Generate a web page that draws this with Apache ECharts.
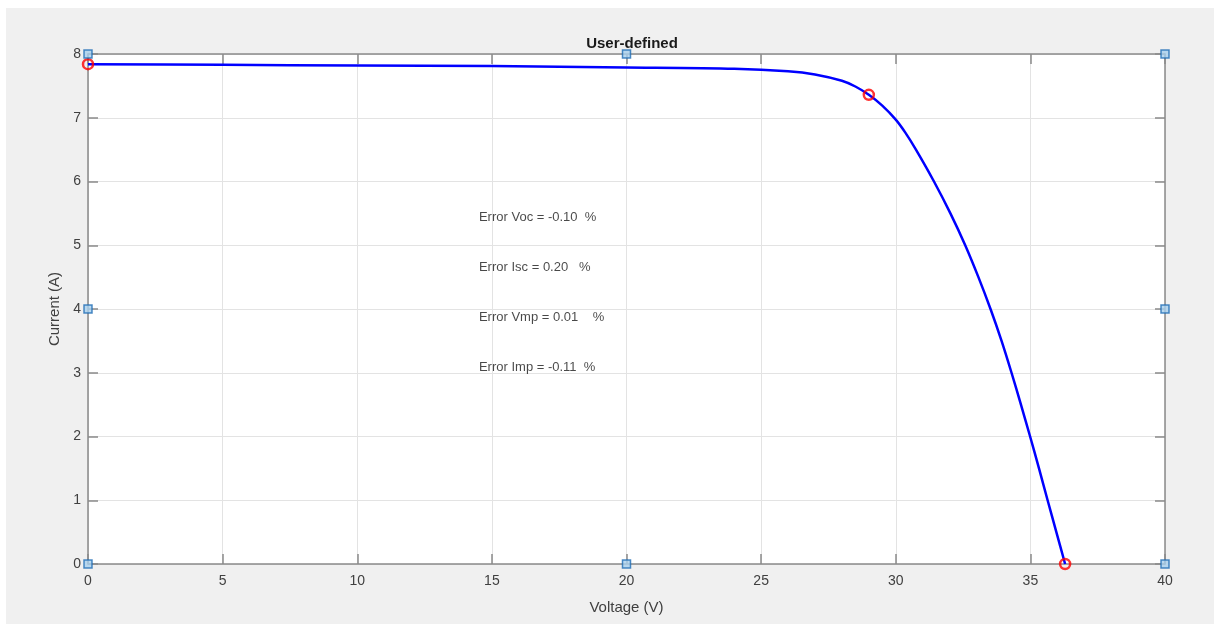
<!DOCTYPE html>
<html>
<head>
<meta charset="utf-8">
<script src="https://cdn.jsdelivr.net/npm/echarts@6/dist/echarts.min.js"></script>
<style>
  html, body { margin: 0; padding: 0; background: #ffffff; }
  #chart { position: absolute; left: 6px; top: 8px; width: 1208px; height: 616px; }
</style>
</head>
<body>
<div id="chart"></div>
<script>
// I-V curve (Voltage V, Current A)
const voltage = [0, 5, 10, 15, 20, 24, 26, 27, 28, 28.5, 29, 29.5, 30, 30.35, 30.75, 31.42, 32.03, 32.58, 33.07, 33.52, 33.93, 34.30, 34.65, 34.99, 35.32, 35.64, 35.965, 36.29];
const current = [7.84, 7.83, 7.82, 7.81, 7.79, 7.77, 7.73, 7.68, 7.58, 7.49, 7.36, 7.19, 6.97, 6.77, 6.5, 6.0, 5.5, 5.0, 4.5, 4.0, 3.5, 3.0, 2.5, 2.0, 1.5, 1.0, 0.5, 0];

// key points (red circles): Isc, MPP, Voc
const keyV = [0, 29.0, 36.29];
const keyI = [7.84, 7.36, 0];

// blue square markers
const markV = [0, 0, 0, 20, 20, 40, 40, 40];
const markI = [0, 4, 8, 0, 8, 0, 4, 8];

// annotation texts
const noteText = ['Error Voc = -0.10  %', 'Error Isc = 0.20   %', 'Error Vmp = 0.01    %', 'Error Imp = -0.11  %'];
const noteV = [14.52, 14.52, 14.52, 14.52];
const noteI = [5.44, 4.65, 3.87, 3.08];

const xTicks = [0, 5, 10, 15, 20, 25, 30, 35, 40];
const yTicks = [0, 1, 2, 3, 4, 5, 6, 7, 8];

const font = 'Liberation Sans, Arial, Helvetica, sans-serif';
const axisGray = '#8a8a8a';
const textGray = '#404040';

const chart = echarts.init(document.getElementById('chart'));

function zip(a, b) { return a.map((v, i) => [v, b[i]]); }

const baseAxisLine = { show: true, onZero: false, lineStyle: { color: axisGray, width: 1.5 } };
const baseTick = { show: true, inside: true, length: 10, lineStyle: { color: axisGray, width: 1.5 } };

chart.setOption({
  backgroundColor: '#f0f0f0',
  animation: false,
  title: {
    text: 'User-defined',
    left: 621,
    top: 23,
    textAlign: 'center',
    textStyle: { fontFamily: font, fontWeight: 'bold', fontSize: 15, color: '#1a1a1a' }
  },
  grid: {
    left: 82, right: 49, top: 46, bottom: 60,
    show: true, backgroundColor: '#ffffff', borderWidth: 0
  },
  xAxis: [{
    type: 'value', min: 0, max: 40, interval: 5, position: 'bottom',
    name: 'Voltage (V)', nameLocation: 'middle', nameGap: 36,
    nameTextStyle: { fontFamily: font, fontSize: 15, color: textGray },
    axisLine: baseAxisLine, axisTick: baseTick,
    axisLabel: { fontFamily: font, fontSize: 14, color: textGray, margin: 10,
      formatter: v => xTicks.includes(v) ? String(v) : '' },
    splitLine: { show: true, lineStyle: { color: '#e3e3e3', width: 1 } }
  }, {
    type: 'value', min: 0, max: 40, interval: 5, position: 'top',
    axisLine: baseAxisLine, axisTick: baseTick,
    axisLabel: { show: false }, splitLine: { show: false }
  }],
  yAxis: [{
    type: 'value', min: 0, max: 8, interval: 1, position: 'left',
    name: 'Current (A)', nameLocation: 'middle', nameGap: 18, nameRotate: 90,
    nameTextStyle: { fontFamily: font, fontSize: 15, color: textGray },
    axisLine: baseAxisLine, axisTick: baseTick,
    axisLabel: { fontFamily: font, fontSize: 14, color: textGray, margin: 7,
      formatter: v => yTicks.includes(v) ? String(v) : '' },
    splitLine: { show: true, lineStyle: { color: '#e3e3e3', width: 1 } }
  }, {
    type: 'value', min: 0, max: 8, interval: 1, position: 'right',
    axisLine: baseAxisLine, axisTick: baseTick,
    axisLabel: { show: false }, splitLine: { show: false }
  }],
  series: [{
    type: 'line',
    data: zip(voltage, current),
    smooth: 0.3,
    showSymbol: false,
    lineStyle: { color: '#0000ff', width: 2.5 },
    z: 3
  }, {
    type: 'scatter',
    data: zip(keyV, keyI),
    symbol: 'circle',
    symbolSize: 10,
    clip: false,
    itemStyle: { color: 'rgba(255,255,255,0)', borderColor: '#ff0000', borderWidth: 2.5 },
    z: 5
  }, {
    type: 'scatter',
    data: zip(markV, markI),
    symbol: 'rect',
    symbolSize: 8,
    clip: false,
    itemStyle: { color: '#a8d0ee', borderColor: '#1f6db5', borderWidth: 1.5 },
    z: 6
  }, {
    type: 'scatter',
    data: noteV.map((v, i) => ({ value: [v, noteI[i]], name: noteText[i] })),
    symbolSize: 0,
    label: {
      show: true, position: 'right', distance: 0,
      formatter: p => p.name,
      fontFamily: font, fontSize: 13, color: '#1a1a1a'
    },
    z: 4
  }]
});
</script>
</body>
</html>
